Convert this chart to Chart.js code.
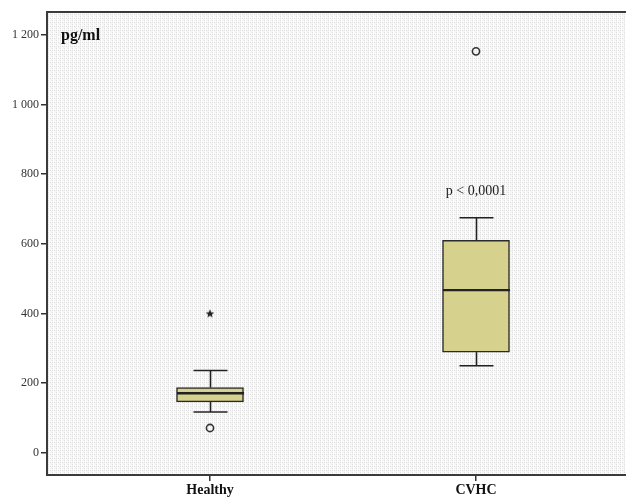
<!DOCTYPE html>
<html lang="en">
<head>
  <meta charset="UTF-8">
  <title>pg/ml boxplot</title>
  <script src="https://cdn.jsdelivr.net/npm/chart.js"></script>
  <style>
    html, body {
      margin: 0;
      padding: 0;
      background: #ffffff;
      overflow: hidden;
    }
    #wrap {
      width: 626px;
      height: 502px;
    }
  </style>
</head>
<body>
  <div id="wrap"><canvas id="boxChart"></canvas></div>

  <script>
    // data
    const groups = ["Healthy", "CVHC"];
    const whiskerLow = [117, 250];
    const q1 = [146, 289];
    const median = [171, 467];
    const q3 = [187, 610];
    const whiskerHigh = [236, 675];
    const outlierCircles = [[71], [1153]];
    const outlierStars = [[400], []];
    const yTicks = [0, 200, 400, 600, 800, 1000, 1200];
    const pText = "p < 0,0001";
    const pAt = { group: 2, value: 750 };

    // stippled grey background like the SPSS plot
    function makePattern(ctx) {
      const c = document.createElement("canvas");
      c.width = 4; c.height = 4;
      const p = c.getContext("2d");
      p.fillStyle = "#f5f5f5";
      p.fillRect(0, 0, 4, 4);
      p.fillStyle = "#e0e0e0";
      p.fillRect(0, 0, 1, 1);
      p.fillRect(2, 2, 1, 1);
      p.fillRect(0, 2, 1, 1);
      p.fillStyle = "#ffffff";
      p.fillRect(1, 0, 1, 4);
      p.fillRect(3, 1, 1, 1);
      return ctx.createPattern(c, "repeat");
    }

    // small filled star for extreme values
    const starImg = document.createElement("canvas");
    starImg.width = 10; starImg.height = 10;
    (function () {
      const s = starImg.getContext("2d");
      s.fillStyle = "#222";
      s.beginPath();
      for (let i = 0; i < 10; i++) {
        const r = i % 2 === 0 ? 4.5 : 1.9;
        const a = -Math.PI / 2 + i * Math.PI / 5;
        const px = 5 + r * Math.cos(a), py = 5.3 + r * Math.sin(a);
        if (i === 0) s.moveTo(px, py); else s.lineTo(px, py);
      }
      s.closePath();
      s.fill();
    })();

    const boxData = groups.map((g, i) => ({ x: i + 1, y: [q1[i], q3[i]] }));
    const circleData = [];
    outlierCircles.forEach((arr, i) => arr.forEach(v => circleData.push({ x: i + 1, y: v })));
    const starData = [];
    outlierStars.forEach((arr, i) => arr.forEach(v => starData.push({ x: i + 1, y: v })));

    const bgPlugin = {
      id: "bg",
      beforeDraw(chart) {
        const { ctx, chartArea: a } = chart;
        ctx.save();
        ctx.fillStyle = makePattern(ctx);
        ctx.fillRect(a.left, a.top, chart.width - a.left, a.bottom - a.top);
        ctx.restore();
      }
    };

    const boxPlugin = {
      id: "whiskers",
      afterDatasetsDraw(chart) {
        const { ctx, scales: { x, y } } = chart;
        const capHalf = 17, boxHalf = 33.5;
        ctx.save();
        ctx.strokeStyle = "#222";
        ctx.lineWidth = 1.6;
        groups.forEach((g, i) => {
          const cx = Math.round(x.getPixelForValue(i + 1)) + 0.5;
          const line = (x1, y1, x2, y2) => {
            ctx.beginPath(); ctx.moveTo(x1, y1); ctx.lineTo(x2, y2); ctx.stroke();
          };
          line(cx, y.getPixelForValue(q3[i]), cx, y.getPixelForValue(whiskerHigh[i]));
          line(cx, y.getPixelForValue(q1[i]), cx, y.getPixelForValue(whiskerLow[i]));
          line(cx - capHalf, y.getPixelForValue(whiskerHigh[i]), cx + capHalf, y.getPixelForValue(whiskerHigh[i]));
          line(cx - capHalf, y.getPixelForValue(whiskerLow[i]), cx + capHalf, y.getPixelForValue(whiskerLow[i]));
          ctx.lineWidth = 2.4;
          line(cx - boxHalf, y.getPixelForValue(median[i]), cx + boxHalf, y.getPixelForValue(median[i]));
          ctx.lineWidth = 1.6;
        });
        // p-value note
        ctx.fillStyle = "#222";
        ctx.font = "14px 'Liberation Serif', serif";
        ctx.textAlign = "center";
        ctx.textBaseline = "middle";
        ctx.fillText(pText, x.getPixelForValue(pAt.group), y.getPixelForValue(pAt.value));
        // unit label
        ctx.font = "bold 16px 'Liberation Serif', serif";
        ctx.textAlign = "left";
        ctx.fillStyle = "#111";
        ctx.fillText("pg/ml", 61, 36);
        ctx.restore();
      }
    };

    const framePlugin = {
      id: "frame",
      afterDraw(chart) {
        const { ctx, chartArea: a } = chart;
        ctx.save();
        ctx.strokeStyle = "#3a3a3a";
        ctx.lineWidth = 2;
        ctx.beginPath();
        ctx.moveTo(chart.width, a.top); ctx.lineTo(a.left, a.top);
        ctx.lineTo(a.left, a.bottom); ctx.lineTo(chart.width, a.bottom);
        ctx.stroke();
        ctx.restore();
      }
    };

    new Chart(document.getElementById("boxChart"), {
      type: "bar",
      data: {
        datasets: [
          {
            type: "bar",
            data: boxData,
            backgroundColor: "#d6d18c",
            borderColor: "#2a2a2a",
            borderWidth: 1.5,
            borderSkipped: false,
            barThickness: 67,
            order: 2
          },
          {
            type: "scatter",
            data: circleData,
            pointStyle: "circle",
            pointRadius: 3.6,
            backgroundColor: "rgba(255,255,255,0)",
            borderColor: "#333",
            borderWidth: 1.6,
            order: 1
          },
          {
            type: "scatter",
            data: starData,
            pointStyle: starImg,
            order: 1
          }
        ]
      },
      options: {
        responsive: true,
        maintainAspectRatio: false,
        animation: false,
        layout: { autoPadding: false, padding: { top: 12, right: 0, left: 0, bottom: 0 } },
        plugins: {
          legend: { display: false },
          tooltip: { enabled: false }
        },
        scales: {
          x: {
            type: "linear",
            offset: false,
            min: 1 - 163 / 266,
            max: 2 + 150 / 266,
            afterBuildTicks(scale) {
              scale.ticks = groups.map((g, i) => ({ value: i + 1 }));
            },
            afterFit(scale) { scale.height = 27; },
            grid: {
              offset: false,
              drawOnChartArea: false,
              drawTicks: true,
              tickLength: 6,
              color: "#333",
              lineWidth: 1.5
            },
            border: { display: false },
            ticks: {
              padding: 1,
              autoSkip: false,
              maxRotation: 0,
              color: "#111",
              font: { family: "'Liberation Serif', serif", size: 14, weight: "bold" },
              callback: v => groups[v - 1] || ""
            }
          },
          y: {
            min: -64,
            max: 1266,
            afterBuildTicks(scale) {
              scale.ticks = yTicks.map(v => ({ value: v }));
            },
            afterFit(scale) { scale.width = 47; },
            grid: {
              drawOnChartArea: false,
              drawTicks: true,
              tickLength: 6,
              color: "#333",
              lineWidth: 1.5
            },
            border: { display: false },
            ticks: {
              padding: 2,
              color: "#333",
              font: { family: "'Liberation Serif', serif", size: 12 },
              callback: v => String(v).replace(/\B(?=(\d{3})+(?!\d))/g, " ")
            }
          }
        }
      },
      plugins: [bgPlugin, boxPlugin, framePlugin]
    });
  </script>
</body>
</html>
